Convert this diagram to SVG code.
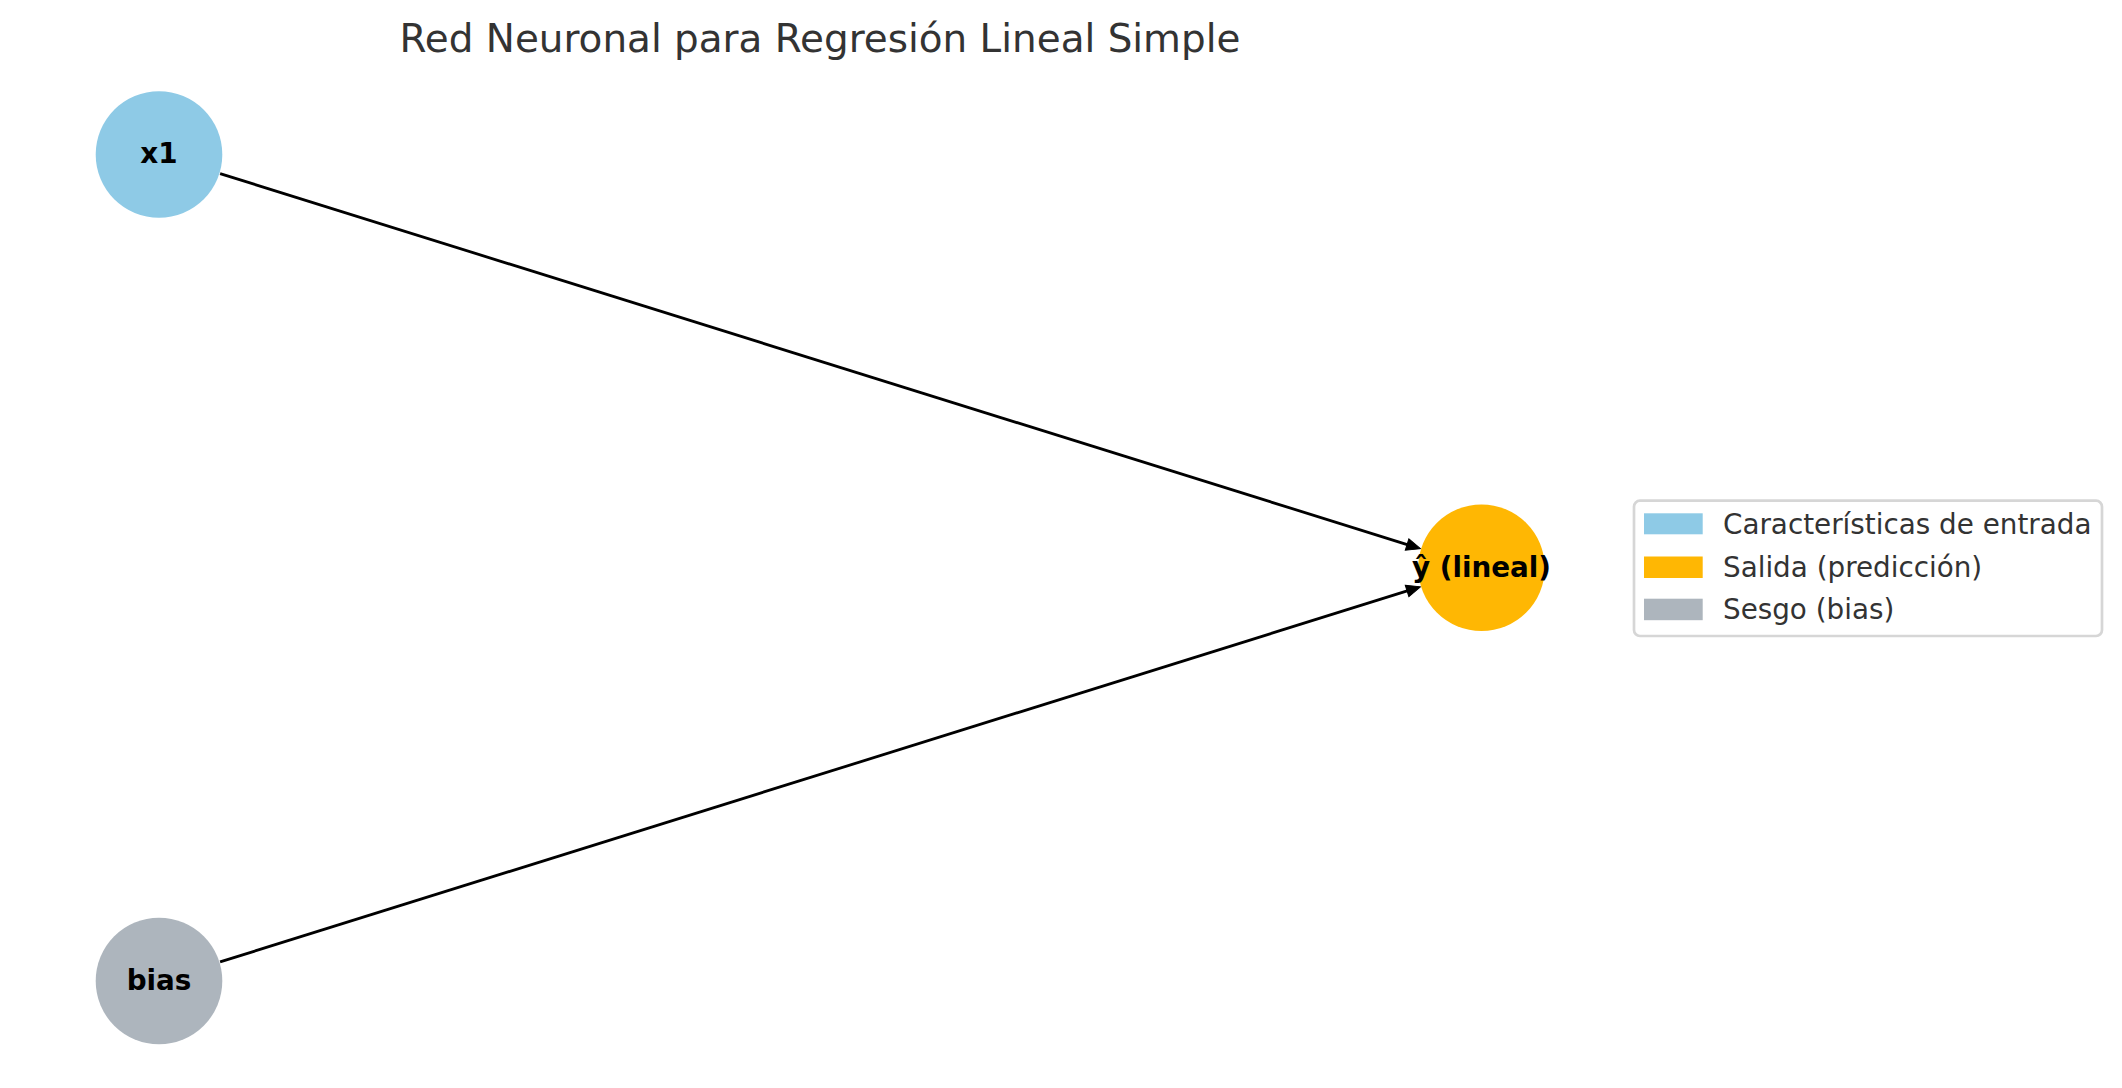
<svg xmlns="http://www.w3.org/2000/svg" width="2122" height="1088" viewBox="0 0 2122 1088">
<style>
.title{font-family:"DejaVu Sans","Liberation Sans",sans-serif;font-size:38.9px;fill:#333333;text-anchor:middle}
.lbl{font-family:"DejaVu Sans","Liberation Sans",sans-serif;font-size:27.8px;font-weight:bold;fill:#000000;text-anchor:middle}
.leg{font-family:"DejaVu Sans","Liberation Sans",sans-serif;font-size:27.8px;fill:#333333}
.edge{stroke:#000000;stroke-width:2.8;fill:none}
</style>
<defs>
<marker id="ah" markerUnits="userSpaceOnUse" markerWidth="16" markerHeight="14" refX="6" refY="6.5" orient="auto" overflow="visible">
<path d="M0,0.5 L14,6.5 L0,12.5 z" fill="#000000" stroke="#000000" stroke-width="1" stroke-linejoin="miter"/>
</marker>
</defs>
<rect width="2122" height="1088" fill="#ffffff"/>
<text class="title" x="820" y="51.5">Red Neuronal para Regresión Lineal Simple</text>
<g id="connectors">
<line class="edge" x1="220.1" y1="173.6" x2="1412.8" y2="546.3" marker-end="url(#ah)"/>
<line class="edge" x1="220.1" y1="961.9" x2="1412.8" y2="589.2" marker-end="url(#ah)"/>
</g>
<g id="node-x1">
<circle cx="159" cy="154.5" r="63.3" fill="#8ecae6"/>
<text class="lbl" x="159" y="163">x1</text>
</g>
<g id="node-bias">
<circle cx="159" cy="981" r="63.3" fill="#adb5bd"/>
<text class="lbl" x="159" y="989.5">bias</text>
</g>
<g id="node-output">
<circle cx="1481.5" cy="567.75" r="63.3" fill="#ffb703"/>
<text class="lbl" x="1481.5" y="577">ŷ (lineal)</text>
</g>
<g id="legend">
<rect x="1634" y="500.7" width="468" height="135.3" rx="6" ry="6" fill="#ffffff" fill-opacity="0.8" stroke="#d6d6d6" stroke-width="2.7"/>
<rect x="1644" y="513.3" width="58.7" height="21" fill="#8ecae6"/>
<rect x="1644" y="556.5" width="58.7" height="21.5" fill="#ffb703"/>
<rect x="1644" y="598.7" width="58.7" height="21.5" fill="#adb5bd"/>
<text class="leg" x="1723" y="534">Características de entrada</text>
<text class="leg" x="1723" y="576.5">Salida (predicción)</text>
<text class="leg" x="1723" y="618.5">Sesgo (bias)</text>
</g>
</svg>
